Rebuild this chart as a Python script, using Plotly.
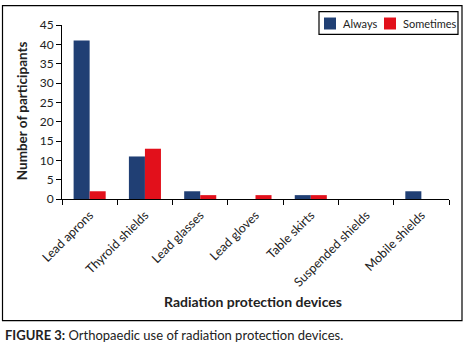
import plotly.graph_objects as go

categories = ["Lead aprons", "Thyroid shields", "Lead glasses", "Lead gloves",
              "Table skirts", "Suspended shields", "Mobile shields"]
always = [41, 11, 2, 0, 1, 0, 2]
sometimes = [2, 13, 1, 1, 1, 0, 0]
series_names = ["Always", "Sometimes"]
series_colors = ["#203f74", "#e2101b"]
y_ticks = [0, 5, 10, 15, 20, 25, 30, 35, 40, 45]

W, H = 466, 347
L, R, T, B = 62, 449, 24.5, 199
pw, ph = R - L, B - T

def px(x):
    return (x - L) / pw

def py(y):
    return (B - y) / ph

FONT = "Lato, 'Open Sans', sans-serif"

fig = go.Figure()
fig.add_trace(go.Bar(name=series_names[0], x=categories, y=always,
                     marker=dict(color=series_colors[0], line=dict(width=0))))
fig.add_trace(go.Bar(name=series_names[1], x=categories, y=sometimes,
                     marker=dict(color=series_colors[1], line=dict(width=0))))

fig.update_layout(
    width=W, height=H,
    margin=dict(l=L, r=W - R, t=T, b=H - B, autoexpand=False),
    paper_bgcolor="white", plot_bgcolor="white",
    barmode="group", bargap=0.42, bargroupgap=0,
    font=dict(family=FONT, size=11, color="#222"),
    showlegend=False,
    xaxis=dict(showline=True, linecolor="black", linewidth=1, ticks="outside",
               tickson="boundaries", ticklen=5, tickcolor="black", tickangle=-45,
               ticklabelstandoff=3,
               tickfont=dict(size=12.5), showgrid=False, fixedrange=True),
    yaxis=dict(range=[0, 45], tickvals=y_ticks, showline=True, linecolor="black",
               linewidth=1, ticks="outside", ticklen=5, tickcolor="black",
               tickfont=dict(size=12), showgrid=False, zeroline=False, fixedrange=True),
)

# outer frame
fig.add_shape(type="rect", xref="paper", yref="paper",
              x0=px(2.5), x1=px(462), y0=py(321), y1=py(5),
              line=dict(color="black", width=1.2), fillcolor="rgba(0,0,0,0)", layer="below")

# legend box (drawn manually to match the compact spacing)
fig.add_shape(type="rect", xref="paper", yref="paper",
              x0=px(319), x1=px(458), y0=py(34), y1=py(11),
              line=dict(color="black", width=1.2), fillcolor="white")
legend_pos = [(324, 341), (384, 401)]
for (sx, tx), name, col in zip(legend_pos, series_names, series_colors):
    fig.add_shape(type="rect", xref="paper", yref="paper",
                  x0=px(sx), x1=px(sx + 12), y0=py(29), y1=py(17),
                  line=dict(width=0), fillcolor=col)
    fig.add_annotation(text=name, xref="paper", yref="paper", x=px(tx), y=py(23),
                       xanchor="left", yanchor="middle", showarrow=False,
                       font=dict(size=11, family=FONT, color="#222"))

# axis titles
fig.add_annotation(text="<b>Number of participants</b>", xref="paper", yref="paper",
                   x=px(22), y=py(111), textangle=-90, showarrow=False,
                   xanchor="center", yanchor="middle",
                   font=dict(size=13.5, family=FONT, color="#222"))
fig.add_annotation(text="<b>Radiation protection devices</b>", xref="paper", yref="paper",
                   x=px(253), y=py(302), showarrow=False,
                   xanchor="center", yanchor="middle",
                   font=dict(size=14, family=FONT, color="#222"))
# caption
fig.add_annotation(text="<b>FIGURE 3:</b> Orthopaedic use of radiation protection devices.",
                   xref="paper", yref="paper", x=px(3), y=py(335), xanchor="left",
                   yanchor="middle", showarrow=False,
                   font=dict(size=13, family=FONT, color="#222"))

fig.write_html("out.html", config={"displayModeBar": False},
               post_script="document.body.style.margin='0';document.body.style.overflow='hidden';")
